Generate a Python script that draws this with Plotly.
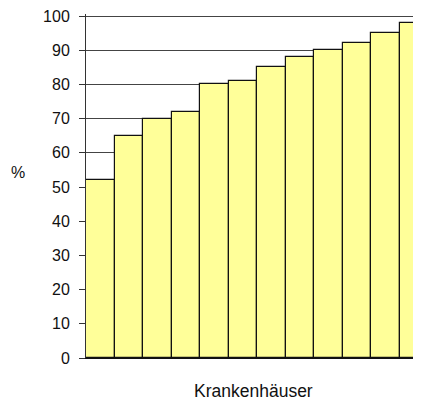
import plotly.graph_objects as go

categories = [f"K{i}" for i in range(1, 13)]
values = [52, 65, 70, 72, 80, 81, 85, 88, 90, 92, 95, 98]
y_ticks = [0, 10, 20, 30, 40, 50, 60, 70, 80, 90, 100]

font = "Liberation Sans, Arial, sans-serif"

fig = go.Figure(go.Bar(
    x=list(range(len(categories))),
    y=values,
    width=1.0,
    marker=dict(color="#FFFF99", line=dict(color="#111111", width=1.2)),
    hovertext=categories,
))

# page body has an 8px default margin; figure sized to fill 421x400 window
fig.update_layout(
    width=413, height=392,
    margin=dict(l=78, r=0, t=4, b=42),
    plot_bgcolor="white", paper_bgcolor="white",
    showlegend=False,
    bargap=0,
    font=dict(family=font, size=16, color="#111111"),
    xaxis=dict(
        range=[-0.5, 11.25], showticklabels=False, ticks="",
        showgrid=False, zeroline=False,
        showline=True, linecolor="#111111", linewidth=1,
    ),
    yaxis=dict(
        range=[0, 100.6], tickvals=y_ticks, ticks="outside", ticklen=6,
        tickcolor="#333333", tickwidth=1,
        showgrid=True, gridcolor="#444444", gridwidth=1,
        zeroline=False, showline=True, linecolor="#333333", linewidth=1,
        ticklabelstandoff=6, ticklabeloverflow="allow",
        tickfont=dict(family=font, size=16, color="#111111"),
    ),
    annotations=[
        dict(text="%", xref="paper", yref="paper", x=-0.203, y=0.538,
             showarrow=False, font=dict(family=font, size=16, color="#111111"),
             xanchor="center", yanchor="middle"),
        dict(text="Krankenhäuser", xref="paper", yref="paper", x=0.5, y=0,
             yshift=-33, showarrow=False,
             font=dict(family=font, size=17.5, color="#111111"),
             xanchor="center", yanchor="middle"),
    ],
)

fig.write_html("out.html")
